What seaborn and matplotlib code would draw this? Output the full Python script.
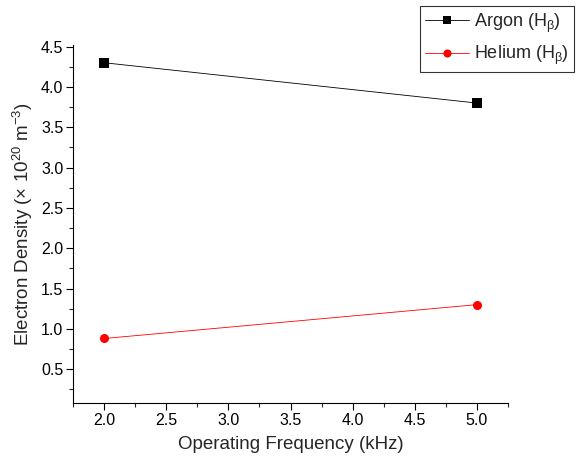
import matplotlib
matplotlib.use("Agg")
import matplotlib.pyplot as plt
import seaborn as sns
import pandas as pd
from matplotlib.ticker import MultipleLocator

freq = [2.0, 5.0]
argon = [4.3, 3.8]
helium = [0.88, 1.3]
labels = ["Argon (H$_{\\mathrm{β}}$)", "Helium (H$_{\\mathrm{β}}$)"]

sns.set_style("ticks")
plt.rcParams['font.family'] = ['Liberation Sans', 'DejaVu Sans']
plt.rcParams['mathtext.fontset'] = 'custom'
plt.rcParams['mathtext.rm'] = 'Liberation Sans'
plt.rcParams['mathtext.it'] = 'Liberation Sans:italic'

df = pd.DataFrame({
    "freq": freq * 2,
    "val": argon + helium,
    "series": [labels[0]] * 2 + [labels[1]] * 2,
})

fig = plt.figure(figsize=(5.78, 4.62), dpi=100)
ax = fig.add_axes([0.1263, 0.1277, 0.879 - 0.1263, 0.9026 - 0.1277])

sns.lineplot(data=df, x="freq", y="val", hue="series", style="series",
             markers={labels[0]: "s", labels[1]: "o"},
             dashes=False, palette={labels[0]: "black", labels[1]: "red"},
             linewidth=0.6, markersize=6.5, markeredgewidth=0, ax=ax)

ax.set_xlim(1.75, 5.25)
ax.set_ylim(0.08, 4.52)
ax.xaxis.set_major_locator(MultipleLocator(0.5))
ax.xaxis.set_minor_locator(MultipleLocator(0.25))
ax.yaxis.set_minor_locator(MultipleLocator(0.25))
ax.set_yticks([0.5, 1.0, 1.5, 2.0, 2.5, 3.0, 3.5, 4.0, 4.5])
ax.tick_params(which='major', direction='out', length=5, width=0.8, labelsize=11.5,
               colors='black', pad=2)
ax.tick_params(which='minor', direction='out', length=3, width=0.8)
for s in ['top', 'right']:
    ax.spines[s].set_visible(False)
for s in ['left', 'bottom']:
    ax.spines[s].set_color('black')
    ax.spines[s].set_linewidth(0.8)

ax.set_xlabel("Operating Frequency (kHz)", fontsize=13.5, labelpad=6)
ax.set_ylabel("Electron Density ($\\times$ 10$^{20}$ m$^{-3}$)", fontsize=13.5, labelpad=4)

leg = ax.legend(loc='upper left', bbox_to_anchor=(420/578, 1 - 6/462), bbox_transform=fig.transFigure,
                frameon=True, fancybox=False, fontsize=13, handlelength=2.4,
                handletextpad=0.3, borderpad=0.3, labelspacing=0.5, borderaxespad=0,
                markerscale=0.9)
leg.get_frame().set_edgecolor('black')
leg.get_frame().set_linewidth(0.8)
leg.set_title(None)

fig.savefig("out.png", dpi=100)
